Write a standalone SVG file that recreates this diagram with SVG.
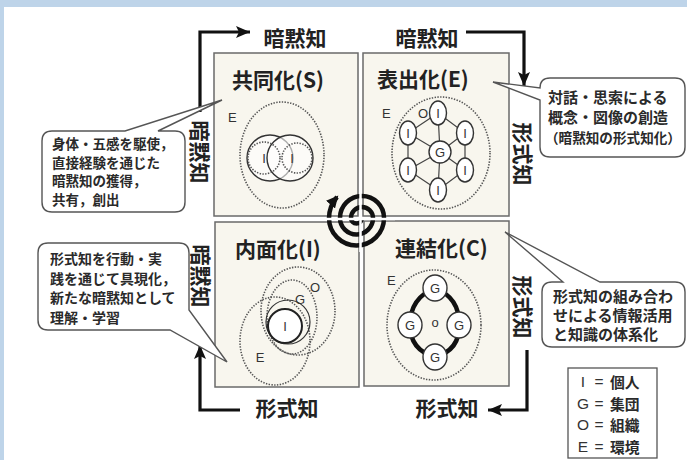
<svg xmlns="http://www.w3.org/2000/svg" width="687" height="460" viewBox="0 0 687 460">
<defs>
<style>
.t{font-family:'Noto Sans CJK JP','Noto Sans',sans-serif;fill:#222}
.big{font-size:21px;font-weight:bold}
.ttl{font-size:21px;font-weight:bold}
.lbl{font-family:'Liberation Sans','Noto Sans',sans-serif;fill:#333;font-size:13px}
.box{fill:#f8f6ee;stroke:#6a6a6a;stroke-width:1.5}
.dot{fill:none;stroke:#555;stroke-width:1.6;stroke-dasharray:1.4 1.4}
.sol{fill:#fff;stroke:#333;stroke-width:1.4}
.ln{stroke:#444;stroke-width:1.2;fill:none}
.arw{fill:none;stroke:#111;stroke-width:3.2}
.call{fill:#fff;stroke:#555;stroke-width:1.4}
.ct{font-family:'Noto Sans CJK JP','Noto Sans',sans-serif;fill:#2a2a2a;font-weight:bold}
</style>
<marker id="ah" markerUnits="userSpaceOnUse" markerWidth="16" markerHeight="12" refX="14" refY="6" orient="auto">
<path d="M0,0 L14,6 L0,12 L3,6 z" fill="#111"/>
</marker>
<marker id="sh" markerUnits="userSpaceOnUse" markerWidth="14" markerHeight="12" refX="10" refY="6" orient="auto">
<path d="M0,0 L12,6 L0,12 z" fill="#111"/>
</marker>
</defs>
<rect x="0" y="0" width="687" height="460" fill="#ffffff"/>
<rect x="0" y="0" width="687" height="7" fill="#bed4e9"/>
<rect x="0" y="0" width="4" height="460" fill="#bed4e9"/>

<g id="quad-S">
<rect class="box" x="214" y="53" width="144" height="163"/>
<text class="t ttl" x="232" y="88">共同化(S)</text>
<text class="lbl" x="228" y="122">E</text>
<ellipse class="dot" cx="282" cy="155" rx="42" ry="53"/>
<circle cx="270" cy="158" r="23" fill="#fff" fill-opacity="0.6" stroke="#333" stroke-width="1.4"/>
<circle cx="290" cy="158" r="23" fill="#fff" fill-opacity="0.6" stroke="#333" stroke-width="1.4"/>
<circle class="dot" cx="264" cy="158" r="16"/>
<circle class="dot" cx="297" cy="158" r="15"/>
<text class="lbl" x="264" y="163" text-anchor="middle">I</text>
<text class="lbl" x="292" y="163" text-anchor="middle">I</text>
</g>

<g id="quad-E">
<rect class="box" x="363" y="53" width="146" height="163"/>
<text class="t ttl" x="377" y="87">表出化(E)</text>
<text class="lbl" x="382" y="118">E</text>
<text class="lbl" x="418" y="118">O</text>
<ellipse class="dot" cx="441" cy="153" rx="49" ry="56"/>
<path class="ln" d="M438,113 L465,133 L465,170 L438,190 L408,170 L408,133 Z M440,152 L438,113 M440,152 L465,133 M440,152 L465,170 M440,152 L438,190 M440,152 L408,170 M440,152 L408,133"/>
<circle class="sol" cx="440" cy="152" r="11"/>
<text class="lbl" x="440" y="157" text-anchor="middle" font-size="14">G</text>
<g class="sol">
<ellipse cx="438" cy="113" rx="8.5" ry="12"/>
<ellipse cx="408" cy="133" rx="8.5" ry="12"/>
<ellipse cx="465" cy="133" rx="8.5" ry="12"/>
<ellipse cx="408" cy="170" rx="8.5" ry="12"/>
<ellipse cx="465" cy="170" rx="8.5" ry="12"/>
<ellipse cx="438" cy="190" rx="8.5" ry="12"/>
</g>
<g class="lbl" text-anchor="middle">
<text x="438" y="118">I</text>
<text x="408" y="138">I</text>
<text x="465" y="138">I</text>
<text x="408" y="175">I</text>
<text x="465" y="175">I</text>
<text x="438" y="195">I</text>
</g>
</g>

<g id="quad-I">
<rect class="box" x="215" y="222" width="144" height="165"/>
<text class="t ttl" x="235" y="257">内面化(I)</text>
<ellipse class="dot" cx="298" cy="311" rx="37" ry="44"/>
<ellipse class="dot" cx="292" cy="317" rx="25" ry="37"/>
<ellipse class="dot" cx="275" cy="341" rx="35" ry="44"/>
<circle cx="288" cy="322" r="22" fill="none" stroke="#333" stroke-width="1.2"/>
<circle cx="285" cy="326" r="17" fill="#fff" stroke="#222" stroke-width="2"/>
<text class="lbl" x="285" y="331" text-anchor="middle">I</text>
<text class="lbl" x="315" y="292" text-anchor="middle" font-size="15">O</text>
<text class="lbl" x="300" y="304" text-anchor="middle" font-size="15">G</text>
<text class="lbl" x="260" y="362" text-anchor="middle" font-size="15">E</text>
</g>

<g id="quad-C">
<rect class="box" x="364" y="221" width="145" height="165"/>
<text class="t ttl" x="395" y="256">連結化(C)</text>
<text class="lbl" x="387" y="285">E</text>
<ellipse class="dot" cx="434" cy="325" rx="47" ry="55"/>
<path d="M435,288 Q460,298 459,325 Q460,350 435,357 Q410,350 410,325 Q410,298 435,288 Z" fill="none" stroke="#111" stroke-width="4.5"/>
<g class="sol">
<ellipse cx="435" cy="288" rx="12" ry="13"/>
<ellipse cx="410" cy="325" rx="12" ry="13"/>
<ellipse cx="459" cy="325" rx="12" ry="13"/>
<ellipse cx="435" cy="357" rx="12" ry="13"/>
</g>
<g class="lbl" text-anchor="middle" font-size="15">
<text x="435" y="293">G</text>
<text x="410" y="330">G</text>
<text x="459" y="330">G</text>
<text x="435" y="362">G</text>
</g>
<text class="lbl" x="435" y="327" text-anchor="middle" font-size="12">o</text>
</g>

<g id="spiral">
<path d="M362,218 A5.5,5.5 0 0 1 351,218 A11,11 0 0 1 373,218 A16.5,16.5 0 0 1 340,218 A22,22 0 0 1 384,218 A27.5,27.5 0 0 1 329,218 A33,33 0 0 1 337,197" fill="none" stroke="#111" stroke-width="4.5" marker-end="url(#sh)"/>
<path d="M360.5,180 L360.5,252 M325,219 L395,219" stroke="#fff" stroke-width="2.5"/>
</g>

<g id="connectors">
<path class="arw" d="M200,112 L200,32 L250,32" marker-end="url(#ah)"/>
<path class="arw" d="M466,32 L524,32 L524,86" marker-end="url(#ah)"/>
<path class="arw" d="M527,350 L527,410 L488,410" marker-end="url(#ah)"/>
<path class="arw" d="M240,410 L200,410 L200,345" marker-end="url(#ah)"/>
</g>

<g id="axis-labels">
<text class="t big" x="295" y="37" text-anchor="middle" dominant-baseline="central">暗黙知</text>
<text class="t big" x="427" y="37" text-anchor="middle" dominant-baseline="central">暗黙知</text>
<text class="t big" x="287" y="407" text-anchor="middle" dominant-baseline="central">形式知</text>
<text class="t big" x="447" y="407" text-anchor="middle" dominant-baseline="central">形式知</text>
<text class="t big" transform="translate(201,152) rotate(90)" text-anchor="middle" dominant-baseline="central">暗黙知</text>
<text class="t big" transform="translate(202,276) rotate(90)" text-anchor="middle" dominant-baseline="central">暗黙知</text>
<text class="t big" transform="translate(524,154) rotate(90)" text-anchor="middle" dominant-baseline="central">形式知</text>
<text class="t big" transform="translate(524,307) rotate(90)" text-anchor="middle" dominant-baseline="central">形式知</text>
</g>

<g id="callout-S">
<path class="call" d="M52,131 L125,131 L222,100 L158,131 L175,131 Q185,131 185,141 L185,202 Q185,212 175,212 L52,212 Q42,212 42,202 L42,141 Q42,131 52,131 Z"/>
<g class="ct" font-size="13.5">
<text x="52" y="149">身体・五感を駆使，</text>
<text x="52" y="167.5">直接経験を通じた</text>
<text x="52" y="186">暗黙知の獲得，</text>
<text x="52" y="204.5">共有，創出</text>
</g>
</g>

<g id="callout-I">
<path class="call" d="M48,243 L179,243 Q189,243 189,253 L189,310 L227,362 L170,330 L48,330 Q38,330 38,320 L38,253 Q38,243 48,243 Z"/>
<g class="ct" font-size="14">
<text x="50" y="264">形式知を行動・実</text>
<text x="50" y="283.5">践を通じて具現化，</text>
<text x="50" y="303">新たな暗黙知として</text>
<text x="50" y="322.5">理解・学習</text>
</g>
</g>

<g id="callout-E">
<path class="call" d="M550,78 L675,78 Q685,78 685,88 L685,147 Q685,157 675,157 L550,157 Q540,157 540,147 L540,100 L493,82 L540,88 Q540,78 550,78 Z"/>
<g class="ct" font-size="15">
<text x="548" y="103">対話・思索による</text>
<text x="548" y="123">概念・図像の創造</text>
<text x="545" y="143" font-size="13.6">（暗黙知の形式知化）</text>
</g>
</g>

<g id="callout-C">
<path class="call" d="M552,282 L563,282 L505,232 L600,282 L675,282 Q685,282 685,292 L685,337 Q685,347 675,347 L552,347 Q542,347 542,337 L542,292 Q542,282 552,282 Z"/>
<g class="ct" font-size="15">
<text x="553" y="302">形式知の組み合わ</text>
<text x="553" y="321">せによる情報活用</text>
<text x="553" y="340">と知識の体系化</text>
</g>
</g>

<g id="legend">
<rect x="568" y="368" width="89" height="90" fill="#fff" stroke="#555" stroke-width="1.3"/>
<g font-family="'Liberation Sans','Noto Sans',sans-serif" font-size="15.5" fill="#333" text-anchor="middle">
<text x="583" y="387">I</text>
<text x="583" y="408.5">G</text>
<text x="583" y="430">O</text>
<text x="583" y="451.5">E</text>
<text x="599" y="387">=</text>
<text x="599" y="408.5">=</text>
<text x="599" y="430">=</text>
<text x="599" y="451.5">=</text>
</g>
<g class="ct" font-size="14.8">
<text x="610" y="388">個人</text>
<text x="610" y="409.5">集団</text>
<text x="610" y="431">組織</text>
<text x="610" y="452.5">環境</text>
</g>
</g>
</svg>
